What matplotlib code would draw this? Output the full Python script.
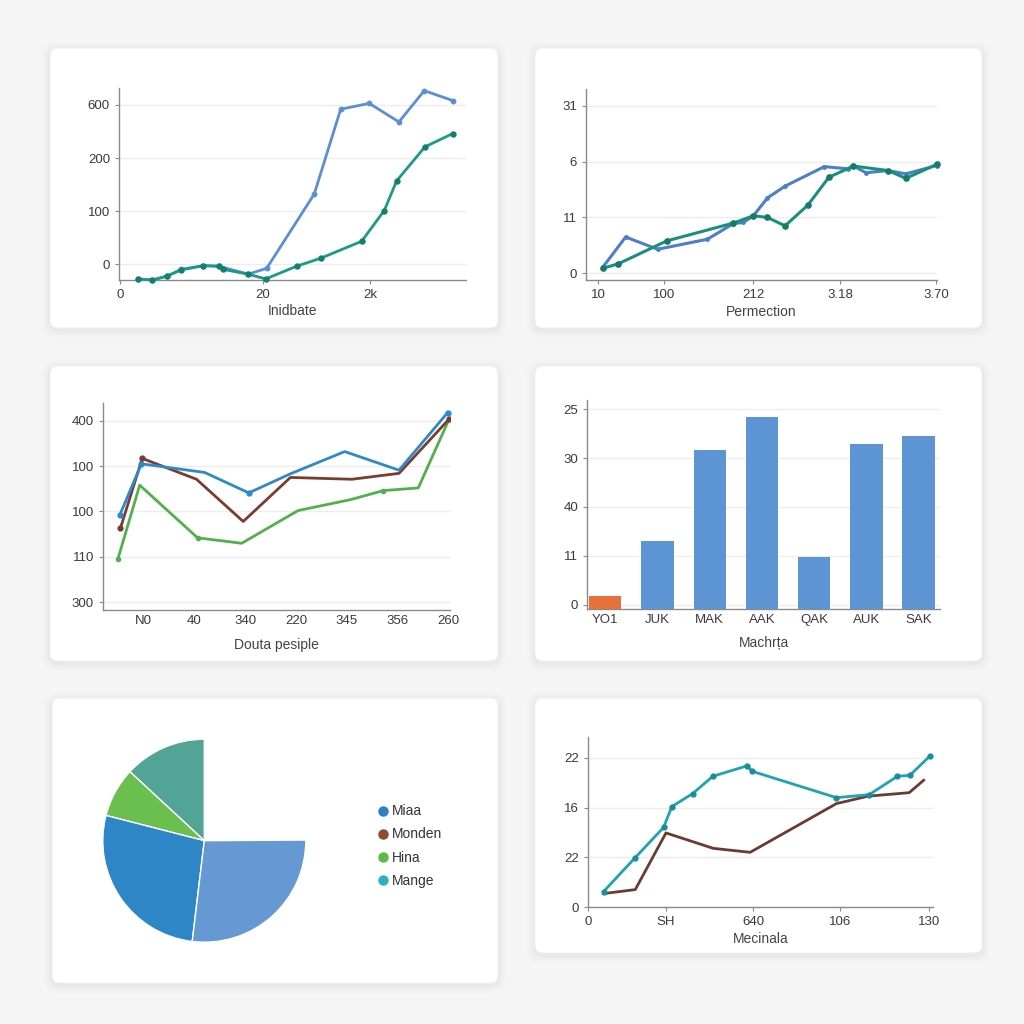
import matplotlib
matplotlib.use("Agg")
import matplotlib.pyplot as plt
from matplotlib.patches import FancyBboxPatch
from matplotlib.lines import Line2D

plt.rcParams['font.family'] = ['Liberation Sans', 'DejaVu Sans']

# ---------------- data ----------------
# Panel 1
p1_blue_x = [2.56, 4.52, 6.53, 8.53, 11.65, 13.85, 17.94, 20.52, 27.17, 30.87, 34.87, 39.02, 42.56, 46.62]
p1_blue_y = [-0.28, -0.30, -0.23, -0.10, -0.03, -0.04, -0.19, -0.08, 1.32, 2.92, 3.03, 2.68, 3.27, 3.08]
p1_green_x = [2.56, 4.52, 6.53, 8.53, 11.65, 13.85, 14.45, 17.94, 20.38, 24.71, 28.07, 33.80, 36.97, 38.70, 42.66, 46.53]
p1_green_y = [-0.28, -0.30, -0.23, -0.11, -0.03, -0.04, -0.10, -0.19, -0.28, -0.04, 0.11, 0.43, 1.01, 1.57, 2.21, 2.46]
p1_xtick_pos = [0, 20, 35]
p1_xtick_labels = ["0", "20", "2k"]
p1_ytick_labels = ["0", "100", "200", "600"]
p1_xlabel = "Inidbate"

# Panel 2
p2_blue_x = [4.8, 11.3, 20.4, 34.6, 42.0, 44.8, 47.7, 51.7, 56.7, 67.9, 74.7, 76.2, 79.8, 86.1, 91.1, 99.9]
p2_blue_y = [0.11, 0.65, 0.43, 0.61, 0.89, 0.91, 1.03, 1.35, 1.56, 1.91, 1.87, 1.92, 1.80, 1.84, 1.78, 1.93]
p2_green_x = [4.8, 9.2, 23.0, 42.0, 47.7, 51.7, 56.7, 63.2, 69.2, 76.2, 86.1, 91.1, 99.9]
p2_green_y = [0.09, 0.17, 0.58, 0.90, 1.03, 1.00, 0.85, 1.22, 1.72, 1.92, 1.84, 1.70, 1.95]
p2_xtick_pos = [3.5, 22.3, 47.7, 72.4, 99.7]
p2_xtick_labels = ["10", "100", "212", "3.18", "3.70"]
p2_ytick_labels = ["0", "11", "6", "31"]
p2_xlabel = "Permection"

# Panel 3
p3_blue_x = [0.527, 0.955, 2.20, 3.07, 3.89, 4.96, 6.03, 6.99]
p3_blue_y = [1.92, 3.05, 2.86, 2.41, 2.83, 3.32, 2.91, 4.18]
p3_brown_x = [0.54, 0.97, 2.04, 2.96, 3.89, 5.10, 6.03, 7.02]
p3_brown_y = [1.63, 3.17, 2.71, 1.78, 2.75, 2.71, 2.84, 4.04]
p3_green_x = [0.49, 0.92, 2.06, 2.93, 4.04, 5.07, 5.72, 6.41, 7.02]
p3_green_y = [0.95, 2.58, 1.42, 1.30, 2.02, 2.26, 2.46, 2.52, 4.04]
p3_xtick_labels = ["N0", "40", "340", "220", "345", "356", "260"]
p3_ytick_labels = ["300", "110", "100", "100", "400"]
p3_xlabel = "Douta pesiple"

# Panel 4
p4_categories = ["YO1", "JUK", "MAK", "AAK", "QAK", "AUK", "SAK"]
p4_values = [0.17, 1.31, 3.16, 3.84, 0.98, 3.29, 3.45]
p4_ytick_labels = ["0", "11", "40", "30", "25"]
p4_xlabel = "Machrța"

# Panel 5
p5_shares = [0.131, 0.079, 0.271, 0.270]
p5_legend = ["Miaa", "Monden", "Hina", "Mange"]

# Panel 6
p6_teal_x = [4.5, 13.5, 21.9, 24.3, 30.3, 36.2, 46.1, 47.6, 72.0, 81.5, 89.7, 93.3, 99.0]
p6_teal_y = [0.31, 0.98, 1.60, 2.02, 2.28, 2.63, 2.84, 2.73, 2.20, 2.26, 2.63, 2.65, 3.03]
p6_brown_x = [4.5, 13.7, 22.6, 36.3, 47.0, 72.0, 81.2, 93.1, 97.3]
p6_brown_y = [0.27, 0.35, 1.49, 1.18, 1.10, 2.08, 2.23, 2.30, 2.55]
p6_xtick_pos = [0, 22.6, 47.9, 73.0, 98.8]
p6_xtick_labels = ["0", "SH", "640", "106", "130"]
p6_ytick_labels = ["0", "22", "16", "22"]
p6_xlabel = "Mecinala"

# ---------------- figure ----------------
W = 1024.0
fig = plt.figure(figsize=(10.24, 10.24), dpi=100)
fig.patch.set_facecolor("#f5f5f5")


def card(x0, y0, x1, y1):
    # soft shadow
    for i, a in enumerate([0.012, 0.014, 0.018]):
        g = (3 - i) * 2.5
        sh = FancyBboxPatch(((x0 - g) / W, 1 - (y1 + g + 2) / W), (x1 - x0 + 2 * g) / W, (y1 - y0 + 2 * g) / W,
                            boxstyle="round,pad=0,rounding_size=0.012", transform=fig.transFigure,
                            facecolor="black", edgecolor="none", alpha=a, zorder=-3)
        fig.patches.append(sh)
    p = FancyBboxPatch((x0 / W, 1 - y1 / W), (x1 - x0) / W, (y1 - y0) / W,
                       boxstyle="round,pad=0,rounding_size=0.008", transform=fig.transFigure,
                       facecolor="white", edgecolor="#f0f0f0", linewidth=0.6, zorder=-2)
    fig.patches.append(p)


card(50, 48, 498, 328)
card(535, 48, 982, 328)
card(50, 366, 498, 661)
card(535, 366, 982, 661)
card(52, 698, 498, 983)
card(535, 698, 982, 953)


def make_ax(x0, y0, x1, y1):
    ax = fig.add_axes([x0 / W, 1 - y1 / W, (x1 - x0) / W, (y1 - y0) / W])
    ax.set_facecolor("none")
    for s in ["top", "right"]:
        ax.spines[s].set_visible(False)
    for s in ["left", "bottom"]:
        ax.spines[s].set_color("#8a8a8a")
        ax.spines[s].set_linewidth(1.0)
    ax.tick_params(colors="#8a8a8a", labelcolor="#3a3a3a", labelsize=9.5, length=3, width=0.8)
    ax.grid(axis="y", color="#ededed", linewidth=1.0)
    ax.set_axisbelow(True)
    return ax


# Panel 1
ax1 = make_ax(119, 88, 466, 280)
ax1.plot(p1_blue_x, p1_blue_y, color="#5b8fd3", lw=2, marker="o", ms=3.2, zorder=3, clip_on=False)
ax1.plot(p1_green_x, p1_green_y, color="#1b9a86", lw=2, marker="o", ms=3.6, mfc="#13806e", mec="#13806e",
         zorder=4, clip_on=False)
ax1.set_xlim(-0.14, 48.4)
ax1.set_ylim(-0.30, 3.32)
ax1.set_xticks(p1_xtick_pos, p1_xtick_labels)
ax1.set_yticks(range(len(p1_ytick_labels)), p1_ytick_labels)
ax1.set_xlabel(p1_xlabel, fontsize=10, color="#444444", labelpad=2)

# Panel 2
ax2 = make_ax(586, 89, 937, 280)
ax2.plot(p2_blue_x, p2_blue_y, color="#4c7fc6", lw=2.2, marker="o", ms=2.5, zorder=3, clip_on=False)
ax2.plot(p2_green_x, p2_green_y, color="#1b8f7e", lw=2.2, marker="o", ms=3.8, mfc="#157a68", mec="#157a68",
         zorder=4, clip_on=False)
ax2.set_xlim(0, 100)
ax2.set_ylim(-0.12, 3.30)
ax2.set_xticks(p2_xtick_pos, p2_xtick_labels)
ax2.set_yticks(range(len(p2_ytick_labels)), p2_ytick_labels)
ax2.set_xlabel(p2_xlabel, fontsize=10, color="#444444", labelpad=3)

# Panel 3
ax3 = make_ax(103, 403, 450, 610)
ax3.plot(p3_green_x, p3_green_y, color="#52b04c", lw=2, marker="o", ms=3, markevery=[0, 2, 6, 8], zorder=3)
ax3.plot(p3_brown_x, p3_brown_y, color="#7b3c30", lw=2, marker="o", ms=3.5, markevery=[0, 1, 7], zorder=4)
ax3.plot(p3_blue_x, p3_blue_y, color="#2f89c8", lw=2, marker="o", ms=3.5, markevery=[0, 1, 3, 7], zorder=5,
         clip_on=False)
ax3.set_xlim(0.197, 7.035)
ax3.set_ylim(-0.17, 4.39)
ax3.set_xticks(range(1, len(p3_xtick_labels) + 1), p3_xtick_labels)
ax3.set_yticks(range(len(p3_ytick_labels)), p3_ytick_labels)
ax3.tick_params(axis="x", length=0)
ax3.set_xlabel(p3_xlabel, fontsize=10, color="#444444", labelpad=8)

# Panel 4
ax4 = make_ax(587, 400, 940, 609)
base = -0.09
bar_colors = ["#e8703a"] + ["#5d95d4"] * (len(p4_categories) - 1)
ax4.bar(range(len(p4_categories)), [v - base for v in p4_values], bottom=base, width=0.62,
        color=bar_colors, zorder=3)
ax4.set_xlim(-0.35, 6.41)
ax4.set_ylim(base, 4.19)
ax4.set_xticks(range(len(p4_categories)), p4_categories)
ax4.set_yticks(range(len(p4_ytick_labels)), p4_ytick_labels)
ax4.tick_params(axis="x", length=0)
ax4.set_xlabel(p4_xlabel, fontsize=10, color="#444444", labelpad=7)

# Panel 5 (pie)
r = 101.5
cx, cy = 204.3, 840.7
ax5 = fig.add_axes([(cx - r) / W, 1 - (cy + r) / W, 2 * r / W, 2 * r / W])
ax5.pie(p5_shares, colors=["#52a596", "#6bbf4e", "#2f86c6", "#6699d3"], startangle=90, counterclock=True,
        normalize=False, radius=1, wedgeprops=dict(edgecolor="white", linewidth=1))
ax5.set_xlim(-1, 1)
ax5.set_ylim(-1, 1)
ax5.set_aspect("equal")
ax5.axis("off")
leg_colors = ["#2f7fc6", "#8e4a32", "#5cb848", "#2fb0bf"]
handles = [Line2D([0], [0], marker="o", linestyle="none", markersize=6.5, markerfacecolor=c,
                  markeredgecolor=c) for c in leg_colors]
fig.legend(handles, p5_legend, loc="center left", bbox_to_anchor=(370 / W, 1 - 846 / W), frameon=False,
           fontsize=10, handlelength=0.8, handletextpad=0.3, labelspacing=0.65, borderpad=0,
           labelcolor="#333333")

# Panel 6
ax6 = make_ax(588, 737, 933, 907)
ax6.plot(p6_brown_x, p6_brown_y, color="#6b3a31", lw=2, zorder=3)
ax6.plot(p6_teal_x, p6_teal_y, color="#1fa3ae", lw=2, marker="o", ms=3.5, mfc="#178f9a", mec="#178f9a",
         zorder=4, clip_on=False)
ax6.set_xlim(0, 100)
ax6.set_ylim(0, 3.42)
ax6.set_xticks(p6_xtick_pos, p6_xtick_labels)
ax6.set_yticks(range(len(p6_ytick_labels)), p6_ytick_labels)
ax6.set_xlabel(p6_xlabel, fontsize=10, color="#444444", labelpad=3)

fig.savefig("out.png", dpi=100, facecolor=fig.get_facecolor())
